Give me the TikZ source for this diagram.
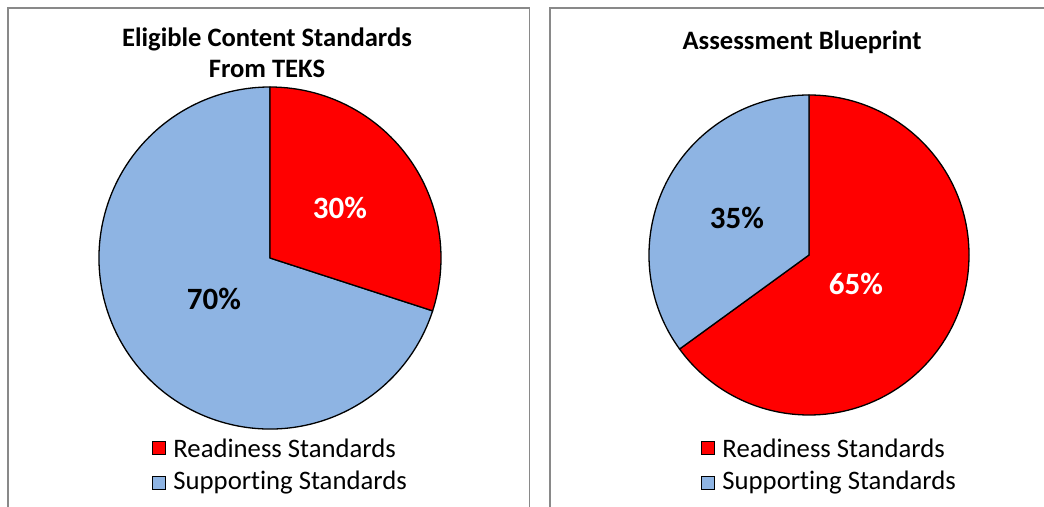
\documentclass[tikz,border=0pt]{standalone}
\usepackage{fontspec}
\setmainfont{Carlito}[Ligatures=NoCommon]
\usepackage{tikz}
\usetikzlibrary{positioning}

\definecolor{readyred}{RGB}{255,0,0}
\definecolor{supportblue}{RGB}{142,180,227}
\definecolor{framegray}{RGB}{137,137,137}

\tikzset{
	charttitle/.style={font=\fontsize{26.6}{31}\selectfont\bfseries, align=center, inner sep=0pt},
	pctlabel/.style={font=\fontsize{31}{31}\selectfont\bfseries, inner sep=0pt},
	slice/.style={draw=black, line width=1.3pt, line join=round},
	legendkey/.style={rectangle, draw=black, line width=1.5pt, minimum size=13pt, inner sep=0pt},
	legendtext/.style={font=\fontsize{26.7}{26.7}\selectfont, inner sep=0pt, anchor=west},
	panelframe/.style={draw=framegray, line width=1.5pt}
}

\begin{document}
\begin{tikzpicture}[x=1pt, y=1pt]
	\useasboundingbox (0,0) rectangle (1044,506);
	
	% frames
	\path [panelframe] (8,-10) -- (8,498) -- (529.5,498) -- (529.5,-10);
	\path [panelframe] (550,-10) -- (550,498) -- (1060,498);
	
	% left chart
	\node[charttitle] (tteks) at (267,453.5) {Eligible Content Standards\\From TEKS};
	\coordinate (lc) at (270,248);
	\filldraw [slice, fill=supportblue] (lc) -- ++(-18:171) arc[start angle=-18, end angle=-270, radius=171] -- cycle;
	\filldraw [slice, fill=readyred] (lc) -- ++(90:171) arc[start angle=90, end angle=-18, radius=171] -- cycle;
	\node[pctlabel, text=white] (lready) at (340,298) {30\%};
	\node[pctlabel] (lsupport) at (214,207) {70\%};
	
	\node[legendkey, fill=readyred] (lkeyr) at (159,58) {};
	\node[legendtext, right=7pt of lkeyr] (ltxtr) {Readiness Standards};
	\node[legendkey, fill=supportblue] (lkeys) at (159,23) {};
	\node[legendtext, right=7pt of lkeys] (ltxts) {Supporting Standards};
	
	% right chart
	\node[charttitle] (tblue) at (802,464) {Assessment Blueprint};
	\coordinate (rc) at (809,251);
	\filldraw [slice, fill=readyred] (rc) -- ++(90:160) arc[start angle=90, end angle=-144, radius=160] -- cycle;
	\filldraw [slice, fill=supportblue] (rc) -- ++(-144:160) arc[start angle=216, end angle=90, radius=160] -- cycle;
	\node[pctlabel, text=white] (rready) at (856,222) {65\%};
	\node[pctlabel] (rsupport) at (737,288) {35\%};
	
	\node[legendkey, fill=readyred] (rkeyr) at (708,58) {};
	\node[legendtext, right=7pt of rkeyr] (rtxtr) {Readiness Standards};
	\node[legendkey, fill=supportblue] (rkeys) at (708,23) {};
	\node[legendtext, right=7pt of rkeys] (rtxts) {Supporting Standards};
\end{tikzpicture}
\end{document}
